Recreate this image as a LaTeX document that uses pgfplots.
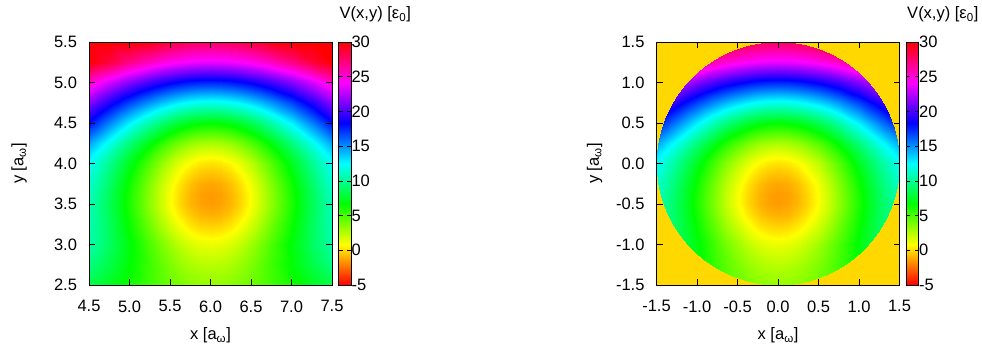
\documentclass[border=0pt]{standalone}
\usepackage{fontspec}
\setmainfont{Liberation Sans}
\usepackage{pgfplots}
\usepackage{pgfplotstable}
\pgfplotsset{compat=1.18}
\definecolor{gpgold}{RGB}{255,216,0}
\newcommand\fs{\fontsize{16.5}{19}\selectfont}

% V(x,y) sampled on a 19x18 grid (x = 4.5..7.5, y = 2.5..5.5, finer near the minimum)
\pgfplotstableread[row sep=\\]{
x y v\\
4.5 2.5 8.24\\ 4.75 2.5 7.32\\ 5 2.5 6.28\\ 5.25 2.5 5.21\\ 5.375 2.5 4.70\\ 5.5 2.5 4.24\\ 5.625 2.5 3.85\\ 5.75 2.5 3.55\\ 5.875 2.5 3.37\\ 6 2.5 3.30\\ 6.125 2.5 3.37\\ 6.25 2.5 3.55\\ 6.375 2.5 3.85\\ 6.5 2.5 4.24\\ 6.625 2.5 4.70\\ 6.75 2.5 5.21\\ 7 2.5 6.28\\ 7.25 2.5 7.32\\ 7.5 2.5 8.24\\
4.5 2.75 9.55\\ 4.75 2.75 8.25\\ 5 2.75 6.78\\ 5.25 2.75 5.24\\ 5.375 2.75 4.51\\ 5.5 2.75 3.84\\ 5.625 2.75 3.27\\ 5.75 2.75 2.84\\ 5.875 2.75 2.57\\ 6 2.75 2.48\\ 6.125 2.75 2.57\\ 6.25 2.75 2.84\\ 6.375 2.75 3.27\\ 6.5 2.75 3.84\\ 6.625 2.75 4.51\\ 6.75 2.75 5.24\\ 7 2.75 6.78\\ 7.25 2.75 8.25\\ 7.5 2.75 9.55\\
4.5 3 10.54\\ 4.75 3 8.86\\ 5 3 6.95\\ 5.25 3 4.93\\ 5.375 3 3.96\\ 5.5 3 3.07\\ 5.625 3 2.32\\ 5.75 3 1.75\\ 5.875 3 1.39\\ 6 3 1.27\\ 6.125 3 1.39\\ 6.25 3 1.75\\ 6.375 3 2.32\\ 6.5 3 3.07\\ 6.625 3 3.96\\ 6.75 3 4.93\\ 7 3 6.95\\ 7.25 3 8.86\\ 7.5 3 10.54\\
4.5 3.125 10.66\\ 4.75 3.125 8.80\\ 5 3.125 6.68\\ 5.25 3.125 4.44\\ 5.375 3.125 3.36\\ 5.5 3.125 2.38\\ 5.625 3.125 1.55\\ 5.75 3.125 0.91\\ 5.875 3.125 0.52\\ 6 3.125 0.38\\ 6.125 3.125 0.52\\ 6.25 3.125 0.91\\ 6.375 3.125 1.55\\ 6.5 3.125 2.38\\ 6.625 3.125 3.36\\ 6.75 3.125 4.44\\ 7 3.125 6.68\\ 7.25 3.125 8.80\\ 7.5 3.125 10.66\\
4.5 3.25 10.80\\ 4.75 3.25 8.78\\ 5 3.25 6.48\\ 5.25 3.25 4.05\\ 5.375 3.25 2.88\\ 5.5 3.25 1.82\\ 5.625 3.25 0.92\\ 5.75 3.25 0.23\\ 5.875 3.25 -0.21\\ 6 3.25 -0.35\\ 6.125 3.25 -0.21\\ 6.25 3.25 0.23\\ 6.375 3.25 0.92\\ 6.5 3.25 1.82\\ 6.625 3.25 2.88\\ 6.75 3.25 4.05\\ 7 3.25 6.48\\ 7.25 3.25 8.78\\ 7.5 3.25 10.80\\
4.5 3.375 10.82\\ 4.75 3.375 8.67\\ 5 3.375 6.23\\ 5.25 3.375 3.64\\ 5.375 3.375 2.40\\ 5.5 3.375 1.28\\ 5.625 3.375 0.32\\ 5.75 3.375 -0.41\\ 5.875 3.375 -0.87\\ 6 3.375 -1.03\\ 6.125 3.375 -0.87\\ 6.25 3.375 -0.41\\ 6.375 3.375 0.32\\ 6.5 3.375 1.28\\ 6.625 3.375 2.40\\ 6.75 3.375 3.64\\ 7 3.375 6.23\\ 7.25 3.375 8.67\\ 7.5 3.375 10.82\\
4.5 3.5 10.88\\ 4.75 3.5 8.63\\ 5 3.5 6.08\\ 5.25 3.5 3.40\\ 5.375 3.5 2.11\\ 5.5 3.5 0.94\\ 5.625 3.5 -0.05\\ 5.75 3.5 -0.81\\ 5.875 3.5 -1.28\\ 6 3.5 -1.44\\ 6.125 3.5 -1.28\\ 6.25 3.5 -0.81\\ 6.375 3.5 -0.05\\ 6.5 3.5 0.94\\ 6.625 3.5 2.11\\ 6.75 3.5 3.40\\ 7 3.5 6.08\\ 7.25 3.5 8.63\\ 7.5 3.5 10.88\\
4.5 3.625 11.10\\ 4.75 3.625 8.79\\ 5 3.625 6.18\\ 5.25 3.625 3.44\\ 5.375 3.625 2.14\\ 5.5 3.625 0.95\\ 5.625 3.625 -0.05\\ 5.75 3.625 -0.82\\ 5.875 3.625 -1.30\\ 6 3.625 -1.46\\ 6.125 3.625 -1.30\\ 6.25 3.625 -0.82\\ 6.375 3.625 -0.05\\ 6.5 3.625 0.95\\ 6.625 3.625 2.14\\ 6.75 3.625 3.44\\ 7 3.625 6.18\\ 7.25 3.625 8.79\\ 7.5 3.625 11.10\\
4.5 3.75 11.38\\ 4.75 3.75 9.03\\ 5 3.75 6.41\\ 5.25 3.75 3.68\\ 5.375 3.75 2.38\\ 5.5 3.75 1.20\\ 5.625 3.75 0.21\\ 5.75 3.75 -0.55\\ 5.875 3.75 -1.03\\ 6 3.75 -1.19\\ 6.125 3.75 -1.03\\ 6.25 3.75 -0.55\\ 6.375 3.75 0.21\\ 6.5 3.75 1.20\\ 6.625 3.75 2.38\\ 6.75 3.75 3.68\\ 7 3.75 6.41\\ 7.25 3.75 9.03\\ 7.5 3.75 11.38\\
4.5 3.875 11.80\\ 4.75 3.875 9.43\\ 5 3.875 6.82\\ 5.25 3.875 4.13\\ 5.375 3.875 2.86\\ 5.5 3.875 1.71\\ 5.625 3.875 0.74\\ 5.75 3.875 0.00\\ 5.875 3.875 -0.46\\ 6 3.875 -0.62\\ 6.125 3.875 -0.46\\ 6.25 3.875 0.00\\ 6.375 3.875 0.74\\ 6.5 3.875 1.71\\ 6.625 3.875 2.86\\ 6.75 3.875 4.13\\ 7 3.875 6.82\\ 7.25 3.875 9.43\\ 7.5 3.875 11.80\\
4.5 4 12.35\\ 4.75 4 9.95\\ 5 4 7.38\\ 5.25 4 4.76\\ 5.375 4 3.53\\ 5.5 4 2.42\\ 5.625 4 1.49\\ 5.75 4 0.79\\ 5.875 4 0.34\\ 6 4 0.19\\ 6.125 4 0.34\\ 6.25 4 0.79\\ 6.375 4 1.49\\ 6.5 4 2.42\\ 6.625 4 3.53\\ 6.75 4 4.76\\ 7 4 7.38\\ 7.25 4 9.95\\ 7.5 4 12.35\\
4.5 4.125 13.33\\ 4.75 4.125 10.88\\ 5 4.125 8.31\\ 5.25 4.125 5.76\\ 5.375 4.125 4.58\\ 5.5 4.125 3.52\\ 5.625 4.125 2.63\\ 5.75 4.125 1.96\\ 5.875 4.125 1.54\\ 6 4.125 1.39\\ 6.125 4.125 1.54\\ 6.25 4.125 1.96\\ 6.375 4.125 2.63\\ 6.5 4.125 3.52\\ 6.625 4.125 4.58\\ 6.75 4.125 5.76\\ 7 4.125 8.31\\ 7.25 4.125 10.88\\ 7.5 4.125 13.33\\
4.5 4.25 14.62\\ 4.75 4.25 12.06\\ 5 4.25 9.48\\ 5.25 4.25 6.98\\ 5.375 4.25 5.84\\ 5.5 4.25 4.83\\ 5.625 4.25 3.98\\ 5.75 4.25 3.34\\ 5.875 4.25 2.94\\ 6 4.25 2.81\\ 6.125 4.25 2.94\\ 6.25 4.25 3.34\\ 6.375 4.25 3.98\\ 6.5 4.25 4.83\\ 6.625 4.25 5.84\\ 6.75 4.25 6.98\\ 7 4.25 9.48\\ 7.25 4.25 12.06\\ 7.5 4.25 14.62\\
4.5 4.5 18.08\\ 4.75 4.5 15.36\\ 5 4.5 12.78\\ 5.25 4.5 10.42\\ 5.375 4.5 9.38\\ 5.5 4.5 8.46\\ 5.625 4.5 7.72\\ 5.75 4.5 7.16\\ 5.875 4.5 6.81\\ 6 4.5 6.69\\ 6.125 4.5 6.81\\ 6.25 4.5 7.16\\ 6.375 4.5 7.72\\ 6.5 4.5 8.46\\ 6.625 4.5 9.38\\ 6.75 4.5 10.42\\ 7 4.5 12.78\\ 7.25 4.5 15.36\\ 7.5 4.5 18.08\\
4.5 4.75 21.41\\ 4.75 4.75 18.98\\ 5 4.75 16.76\\ 5.25 4.75 14.81\\ 5.375 4.75 13.97\\ 5.5 4.75 13.24\\ 5.625 4.75 12.65\\ 5.75 4.75 12.21\\ 5.875 4.75 11.94\\ 6 4.75 11.85\\ 6.125 4.75 11.94\\ 6.25 4.75 12.21\\ 6.375 4.75 12.65\\ 6.5 4.75 13.24\\ 6.625 4.75 13.97\\ 6.75 4.75 14.81\\ 7 4.75 16.76\\ 7.25 4.75 18.98\\ 7.5 4.75 21.41\\
4.5 5 25.33\\ 4.75 5 23.26\\ 5 5 21.44\\ 5.25 5 19.88\\ 5.375 5 19.23\\ 5.5 5 18.67\\ 5.625 5 18.22\\ 5.75 5 17.89\\ 5.875 5 17.69\\ 6 5 17.62\\ 6.125 5 17.69\\ 6.25 5 17.89\\ 6.375 5 18.22\\ 6.5 5 18.67\\ 6.625 5 19.23\\ 6.75 5 19.88\\ 7 5 21.44\\ 7.25 5 23.26\\ 7.5 5 25.33\\
4.5 5.25 30.00\\ 4.75 5.25 28.70\\ 5 5.25 27.01\\ 5.25 5.25 25.62\\ 5.375 5.25 25.06\\ 5.5 5.25 24.58\\ 5.625 5.25 24.20\\ 5.75 5.25 23.93\\ 5.875 5.25 23.76\\ 6 5.25 23.70\\ 6.125 5.25 23.76\\ 6.25 5.25 23.93\\ 6.375 5.25 24.20\\ 6.5 5.25 24.58\\ 6.625 5.25 25.06\\ 6.75 5.25 25.62\\ 7 5.25 27.01\\ 7.25 5.25 28.70\\ 7.5 5.25 30.00\\
4.5 5.5 30.00\\ 4.75 5.5 30.00\\ 5 5.5 30.00\\ 5.25 5.5 29.59\\ 5.375 5.5 29.04\\ 5.5 5.5 28.59\\ 5.625 5.5 28.24\\ 5.75 5.5 27.98\\ 5.875 5.5 27.83\\ 6 5.5 27.78\\ 6.125 5.5 27.83\\ 6.25 5.5 27.98\\ 6.375 5.5 28.24\\ 6.5 5.5 28.59\\ 6.625 5.5 29.04\\ 6.75 5.5 29.59\\ 7 5.5 30.00\\ 7.25 5.5 30.00\\ 7.5 5.5 30.00\\
}\tbl

\pgfplotsset{
  colormap={gp}{rgb255=(255,0,0) rgb255=(255,255,0) rgb255=(0,255,0) rgb255=(0,255,255) rgb255=(0,0,255) rgb255=(255,0,255) rgb255=(255,0,0)},
  hmap/.style={
    scale only axis, width=243pt, height=243pt, anchor=south west,
    axis on top, enlargelimits=false,
    tick align=inside, major tick length=6pt,
    every tick/.style={black, line width=0.6pt},
    axis line style={black, line width=0.7pt},
    tick label style={font=\fs},
    label style={font=\fs},
    every y tick label/.style={xshift=-8.5pt},
    every x tick label/.style={yshift=-12pt},
    colormap name=gp, point meta min=-5, point meta max=30,
    colorbar,
    colorbar style={
      at={(parent axis.north east)}, anchor=north west, xshift=-2pt,
      scale only axis, width=12.5pt, height=243pt,
      ytick={-5,0,5,10,15,20,25,30},
      yticklabels={{\fs -5},{\fs 0},{\fs 5},{\fs 10},{\fs 15},{\fs 20},{\fs 25},{\fs 30}},
      every y tick label/.style={font=\fs, xshift=-3pt},
      every x tick label/.style={},
      major tick length=4pt, tick align=inside,
      axis line style={black, line width=0.7pt},
      title={V(x,y) [ε\textsubscript{0}]},
      title style={at={(0,1)}, anchor=base west, yshift=17pt, xshift=1pt, inner sep=0pt, font=\fs},
    },
    /pgf/number format/assume math mode=true,
  }
}

\begin{document}
\begin{tikzpicture}
\useasboundingbox (0,0) rectangle (982pt,347pt);
\begin{axis}[hmap, at={(89pt,62pt)},
  xmin=4.5, xmax=7.5, ymin=2.5, ymax=5.5,
  xtick={4.5,5,5.5,6,6.5,7,7.5}, xticklabels={4.5,5.0,5.5,6.0,6.5,7.0,7.5},
  ytick={2.5,3,3.5,4,4.5,5,5.5}, yticklabels={2.5,3.0,3.5,4.0,4.5,5.0,5.5},
  xlabel={x [a\textsubscript{ω}]}, ylabel={y [a\textsubscript{ω}]},
  xlabel style={at={(axis description cs:0.5,-0.226)}, anchor=base},
  ylabel style={at={(axis description cs:-0.288,0.5)}, anchor=center}]
\addplot[surf, shader=interp, mesh/cols=19, point meta=explicit] table[x=x, y=y, meta=v] {\tbl};
\end{axis}

\begin{axis}[hmap, at={(656.5pt,62pt)},
  axis background/.style={fill=gpgold},
  xmin=-1.5, xmax=1.5, ymin=-1.5, ymax=1.5,
  xtick={-1.5,-1,-0.5,0,0.5,1,1.5}, xticklabels={-1.5,-1.0,-0.5,0.0,0.5,1.0,1.5},
  ytick={-1.5,-1,-0.5,0,0.5,1,1.5}, yticklabels={-1.5,-1.0,-0.5,0.0,0.5,1.0,1.5},
  xlabel={x [a\textsubscript{ω}]}, ylabel={y [a\textsubscript{ω}]},
  xlabel style={at={(axis description cs:0.5,-0.226)}, anchor=base},
  ylabel style={at={(axis description cs:-0.255,0.5)}, anchor=center}]
\begin{scope}
\clip (axis cs:0,0) circle [radius=1.5];
\addplot[surf, shader=interp, mesh/cols=19, point meta=explicit] table[x expr=\thisrow{x}-6, y expr=\thisrow{y}-4, meta=v] {\tbl};
\end{scope}
\end{axis}
\end{tikzpicture}
\end{document}
